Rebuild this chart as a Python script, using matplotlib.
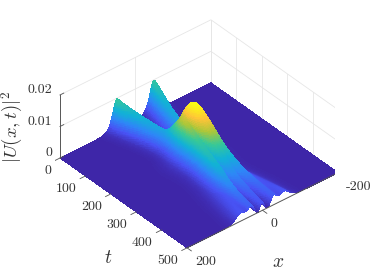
import numpy as np
import matplotlib
matplotlib.use('Agg')
import matplotlib.pyplot as plt
from matplotlib.colors import LinearSegmentedColormap
from mpl_toolkits.mplot3d import proj3d

plt.rcParams['mathtext.fontset'] = 'cm'
plt.rcParams['font.family'] = ['cmr10', 'DejaVu Sans']
plt.rcParams['axes.unicode_minus'] = False

# ridge table, one entry per t row
t_rows = [0, 60, 100, 140, 170, 190, 215, 240, 270, 320, 370, 400, 450, 500]
side_x = [50, 38, 30, 24, 21, 19, 18, 19, 20, 22, 24, 26, 28, 30]
side_amp = [0.0100, 0.0082, 0.0073, 0.0066, 0.0058, 0.0050, 0.0040, 0.0042, 0.0048, 0.0060,
            0.0056, 0.0046, 0.0034, 0.0028]
far_amp = [0.0100, 0.0082, 0.0073, 0.0066, 0.0058, 0.0050, 0.0040, 0.0042, 0.0042, 0.0040,
           0.0034, 0.0032, 0.0028, 0.0026]
side_w = [15, 15, 15, 15, 15, 15, 16, 16, 15, 15, 14, 12, 11, 10]
mid_x = [0, 0, 0, 0, 0, -1, -3, -5, -6, -5, -4, -3, -2, 2]
mid_amp = [0, 0, 0, 0.0003, 0.0050, 0.0115, 0.0158, 0.0145, 0.0118, 0.0075, 0.0050, 0.0042,
           0.0032, 0.0025]
mid_w = [14, 14, 14, 14, 22, 24, 25, 25, 24, 21, 18, 16, 11, 7]
outer_x = [25, 25, 25, 25, 25, 25, 25, 25, 25, 32, 40, 46, 52, 58]
outer_amp = [0, 0, 0, 0, 0, 0, 0, 0, 0.0003, 0.0009, 0.0016, 0.0019, 0.0023, 0.0026]
outer_w = [22, 22, 22, 22, 22, 22, 22, 22, 22, 22, 21, 20, 19, 18]
gap_x = [10, 10, 10, 10, 10, 10, 10, 10, 10, 10, 11, 12, 12, 13]
gap_depth = [0, 0, 0, 0, 0, 0.03, 0.08, 0.10, 0.12, 0.2, 0.35, 0.45, 0.7, 1.0]
far_gap_depth = [0, 0, 0, 0, 0, 0, 0, 0, 0, 0, 0.2, 0.45, 0.7, 1.0]
gap_w = [4, 4, 4, 4, 4, 4, 4, 4, 4, 4, 4, 4, 4, 4]

t_ticks = [0, 100, 200, 300, 400, 500]
x_ticks = [-200, 0, 200]
z_ticks = [0, 0.01, 0.02]
z_names = ['0', '0.01', '0.02']

parula = [(0.2422, 0.1504, 0.6603), (0.2810, 0.3228, 0.9579), (0.1786, 0.5289, 0.9682),
          (0.0689, 0.6948, 0.8394), (0.2161, 0.7843, 0.5923), (0.6720, 0.7793, 0.2227),
          (0.9970, 0.7659, 0.2199), (0.9769, 0.9839, 0.0805)]
cmap = LinearSegmentedColormap.from_list('parula', parula)


def sech2(u):
    return 1 / np.cosh(u) ** 2


def row(t, values):
    return np.interp(t, t_rows, values)


def surface_height(x, t):
    cx, w = row(t, side_x), row(t, side_w)
    ox, oa, ow = row(t, outer_x), row(t, outer_amp), row(t, outer_w)
    gx, gw = row(t, gap_x), row(t, gap_w)
    z = row(t, mid_amp) * sech2((x - row(t, mid_x)) / row(t, mid_w))
    z = z + row(t, side_amp) * sech2((x - cx) / w) + row(t, far_amp) * sech2((x + cx) / w)
    z = z + oa * sech2((x - ox) / ow) + oa * sech2((x + ox) / ow)
    z = z * (1 - row(t, gap_depth) * sech2((x - gx) / gw))
    z = z * (1 - row(t, far_gap_depth) * sech2((x + gx) / gw))
    return z


def soften_in_t(z, half=5):
    # take the corners out of the table rows, along t only
    kernel = np.ones(2 * half + 1) / (2 * half + 1)
    for _ in range(2):
        padded = np.pad(z, ((half, half), (0, 0)), mode='edge')
        z = np.apply_along_axis(lambda col: np.convolve(col, kernel, mode='valid'), 0, padded)
    return z


x = np.linspace(-200, 200, 401)
t = np.linspace(0, 500, 201)
X, T = np.meshgrid(x, t)
Z = soften_in_t(surface_height(X, T))

fig = plt.figure(figsize=(3.74, 2.80), dpi=100)
ax = fig.add_axes([0, 0, 1, 1], projection='3d', proj_type='ortho', computed_zorder=False)
ax.view_init(elev=36.4, azim=50)
ax.set_axis_off()
ax.set_xlim(-200, 200, view_margin=0)
ax.set_ylim(0, 500, view_margin=0)
ax.set_zlim(0, 0.02, view_margin=0)

# back walls
grid_c = '#e6e6e6'
for tk in t_ticks:
    ax.plot([-200, -200], [tk, tk], [0, 0.02], color=grid_c, lw=0.6, zorder=1)
for xk in x_ticks[:2]:
    ax.plot([xk, xk], [0, 0], [0, 0.02], color=grid_c, lw=0.6, zorder=1)
for zk in z_ticks[1:]:
    ax.plot([200, -200, -200], [0, 0, 500], [zk, zk, zk], color=grid_c, lw=0.6, zorder=1)

colors = cmap(Z[:-1, :-1] / 0.0178)
ax.plot_surface(X, T, Z, facecolors=colors, rstride=1, cstride=1, shade=False,
                linewidth=0, antialiased=False, zorder=2)

# axis lines and ticks
axis_c = '#555555'
ax.plot([200, 200], [0, 0], [0, 0.02], color=axis_c, lw=0.7, zorder=3)
ax.plot([200, -200], [500, 500], [0, 0], color=axis_c, lw=0.7, zorder=3)
for zk in z_ticks:
    ax.plot([200, 190], [0, 0], [zk, zk], color=axis_c, lw=0.6, zorder=3)
for tk in t_ticks:
    ax.plot([200, 214], [tk, tk], [0, 0], color=axis_c, lw=0.6, zorder=3)
for xk in x_ticks:
    ax.plot([xk, xk], [500, 517], [0, 0], color=axis_c, lw=0.6, zorder=3)


def to_px(px, pt, pz):
    a, b, _ = proj3d.proj_transform(px, pt, pz, ax.get_proj())
    return ax.transData.transform((a, b))


# fit the box onto the figure: corners at 60,158 and 338,173 from top left
aspect = (197, 197.6, 78.3)
ax.set_box_aspect(aspect, zoom=1)
fig.canvas.draw()
span = to_px(-200, 500, 0)[0] - to_px(200, 0, 0)[0]
ax.set_box_aspect(aspect, zoom=278 / span)
fig.canvas.draw()
p = to_px(200, 0, 0)
ax.set_position([(60 - p[0]) / 374, ((280 - 158) - p[1]) / 280, 1, 1])
fig.canvas.draw()

txt_c = '#333333'


def label_at(px, pt, pz, dx, dy, s, **kw):
    q = to_px(px, pt, pz)
    fig.text((q[0] + dx) / 374, (q[1] - dy) / 280, s, color=txt_c, **kw)


for tk in t_ticks:
    label_at(200, tk, 0, -9, 13, str(tk), ha='right', va='center', fontsize=10)
for xk in x_ticks:
    label_at(xk, 500, 0, 8, 14, str(xk), ha='left', va='center', fontsize=10)
for zk, nm in zip(z_ticks, z_names):
    label_at(200, 0, zk, -8, -5, nm, ha='right', va='center', fontsize=10)

fig.text(12 / 374, 1 - 127 / 280, r'$|U(x,t)|^2$', rotation=90, ha='center', va='center',
         fontsize=13.5, color=txt_c)
fig.text(108 / 374, 1 - 258 / 280, r'$t$', ha='center', va='center', fontsize=14, color=txt_c)
fig.text(278 / 374, 1 - 262 / 280, r'$x$', ha='center', va='center', fontsize=14, color=txt_c)

fig.savefig('out.png', dpi=100)
